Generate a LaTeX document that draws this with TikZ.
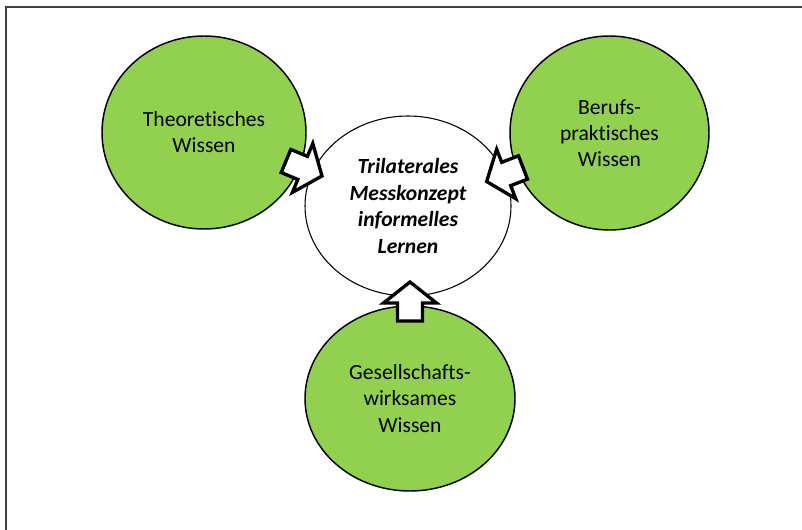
\documentclass[tikz,border=0pt]{standalone}
\usepackage{fontspec}
\setmainfont{Carlito}[Ligatures=NoCommon]
\usetikzlibrary{shapes.geometric}
\definecolor{kgreen}{HTML}{92D050}
\begin{document}
\begin{tikzpicture}[x=0.75pt,y=-0.75pt,
  txt/.style={align=center, font=\fontsize{16.2}{19.6}\selectfont},
  know/.style={ellipse, draw=black, line width=1.1pt, fill=kgreen, inner sep=0pt, txt},
  core/.style={ellipse, draw=black, line width=0.8pt, fill=white, inner sep=0pt, txt, font=\fontsize{16.2}{19.8}\selectfont\bfseries\itshape},
  blockarrow/.style={draw=black, fill=white, line width=2.5pt, line join=miter}]
\useasboundingbox (0,0) rectangle (802,530);
\draw[black!75, line width=1.2pt] (6,531) -- (6,7) -- (803,7);
\node[know, minimum width=153pt, minimum height=144.75pt] (theo) at (204,132.5) {Theoretisches\\Wissen};
\node[know, minimum width=149.25pt, minimum height=145.5pt] (beruf) at (609.5,133) {Berufs-\\praktisches\\Wissen};
\node[know, minimum width=157.5pt, minimum height=138.75pt] (gesell) at (410,398.5) {Gesellschafts-\\wirksames\\Wissen};
\node[core, minimum width=154.5pt, minimum height=135pt] (mess) at (408,206) {Trilaterales\\Messkonzept\\informelles\\Lernen};
\coordinate (ta) at (286,161);
\coordinate (tb) at (523,167.5);
\coordinate (tc) at (410,321);
\foreach \c/\r in {ta/-22.6, tb/201.1, tc/90}{
  \begin{scope}[shift={(\c)}, rotate=\r]
    \draw[blockarrow] (0,-12.5) -- (18,-12.5) -- (18,-26.5) -- (39,0) -- (18,26.5) -- (18,12.5) -- (0,12.5) -- cycle;
  \end{scope}
}
\end{tikzpicture}
\end{document}
